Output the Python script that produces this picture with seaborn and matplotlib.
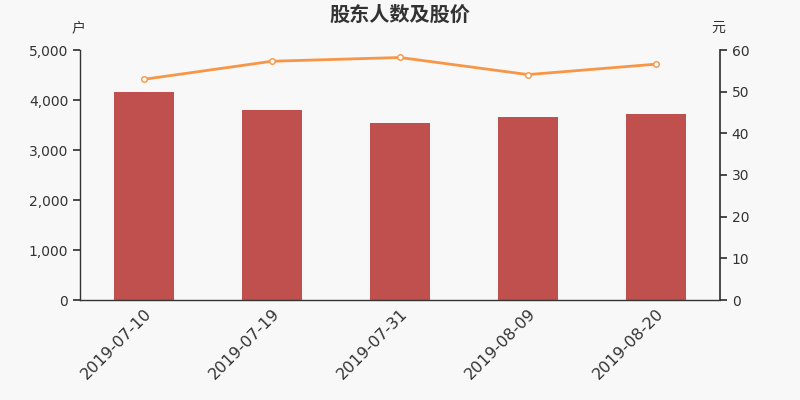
import pandas as pd
import seaborn as sns
import matplotlib.pyplot as plt
from matplotlib.ticker import FuncFormatter, FixedLocator

dates = ['2019-07-10', '2019-07-19', '2019-07-31', '2019-08-09', '2019-08-20']
holders = [4153, 3793, 3540, 3653, 3720]
price = [52.97, 57.3, 58.2, 54.1, 56.6]

df = pd.DataFrame({'date': dates, 'holders': holders, 'price': price})

sns.set_theme(style='white')
plt.rcParams['font.family'] = ['DejaVu Sans', 'Noto Sans CJK SC']
txt = '#333333'
cjk = ['Noto Sans CJK SC', 'DejaVu Sans']

fig = plt.figure(figsize=(8, 4), dpi=100, facecolor='#f8f8f8')
ax = fig.add_axes([0.1, 0.25, 0.8, 0.625])
ax.set_facecolor('#f8f8f8')

sns.barplot(data=df, x='date', y='holders', color='#c0504d', saturation=1,
            width=0.47, linewidth=0, ax=ax)
ax.set_xlim(-0.5, 4.5)
ax.set_ylim(0, 5000)
ax.set_yticks(range(0, 5001, 1000))
ax.yaxis.set_major_formatter(FuncFormatter(lambda v, p: f'{int(v):,}'))
ax.set_xlabel('')
ax.set_ylabel('')
ax.tick_params(axis='x', length=0, labelsize=11.5, colors=txt, pad=4)
ax.xaxis.set_minor_locator(FixedLocator([i - 0.5 for i in range(6)]))
ax.tick_params(axis='x', which='minor', length=5, color=txt)
ax.tick_params(axis='y', length=5, labelsize=10, colors=txt, left=True)
for lab in ax.get_xticklabels():
    lab.set_rotation(45)
    lab.set_ha('right')
    lab.set_rotation_mode('anchor')
for s in ['top', 'right']:
    ax.spines[s].set_visible(False)
for s in ['left', 'bottom']:
    ax.spines[s].set_color(txt)
    ax.spines[s].set_linewidth(1)

ax2 = ax.twinx()
sns.lineplot(x=list(range(len(dates))), y=price, ax=ax2, color='#f79646',
             linewidth=2, marker='o', markersize=4, markerfacecolor='white',
             markeredgecolor='#f79646', markeredgewidth=1)
ax2.set_xlim(-0.5, 4.5)
ax2.set_ylim(0, 60)
ax2.set_yticks(range(0, 61, 10))
ax2.tick_params(axis='y', length=5, labelsize=10, colors=txt, right=True)
for s in ['top', 'left', 'bottom']:
    ax2.spines[s].set_visible(False)
ax2.spines['right'].set_color(txt)

fig.text(0.5, 0.965, '股东人数及股价', ha='center', va='center', fontsize=14.5,
         fontweight='bold', color=txt, family=cjk)
fig.text(0.098, 0.93, '户', ha='center', va='center', fontsize=10, color=txt, family=cjk)
fig.text(0.898, 0.93, '元', ha='center', va='center', fontsize=10, color=txt, family=cjk)

fig.savefig('out.png', dpi=100, facecolor=fig.get_facecolor())
